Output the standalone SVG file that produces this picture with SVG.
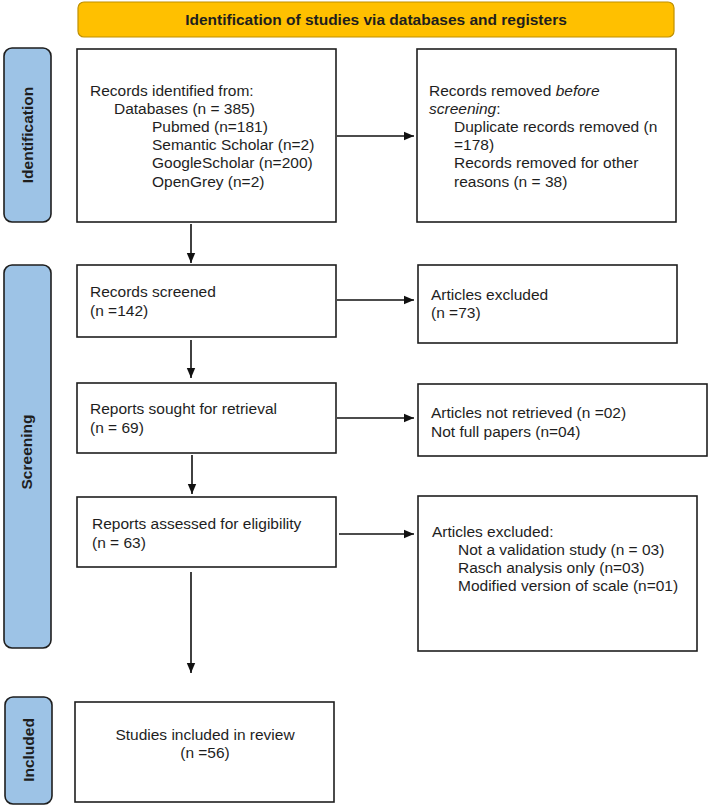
<svg xmlns="http://www.w3.org/2000/svg" width="709" height="806" viewBox="0 0 709 806">
<defs>
<style>
.box{fill:#fff;stroke:#1e1e1e;stroke-width:1.6}
.side{fill:#9dc3e6;stroke:#1e1e1e;stroke-width:1.6}
.hdr{fill:#ffc000;stroke:#c09000;stroke-width:1.2}
.t{font-family:"Liberation Sans",Arial,sans-serif;font-size:15.5px;fill:#1e1e1e}
.b{font-family:"Liberation Sans",Arial,sans-serif;font-size:15.5px;font-weight:bold;fill:#1e1e1e}
.c{stroke:#111;stroke-width:1.6;fill:none}
</style>
<marker id="ah" markerUnits="userSpaceOnUse" markerWidth="10" markerHeight="10" refX="10" refY="5" orient="auto">
<path d="M0,0.8 L10,5 L0,9.2 z" fill="#111"/>
</marker>
</defs>
<rect width="709" height="806" fill="#fff"/>
<g id="header">
<rect class="hdr" x="78" y="2" width="596" height="35" rx="6"/>
<text class="b" x="376" y="24.5" text-anchor="middle">Identification of studies via databases and registers</text>
</g>
<g id="side-identification">
<rect class="side" x="4" y="48" width="47" height="174" rx="8"/>
<text class="b" transform="translate(33,135) rotate(-90)" text-anchor="middle">Identification</text>
</g>
<g id="side-screening">
<rect class="side" x="4" y="265" width="47" height="383" rx="8"/>
<text class="b" transform="translate(32,452) rotate(-90)" text-anchor="middle">Screening</text>
</g>
<g id="side-included">
<rect class="side" x="5" y="697" width="47" height="107" rx="8"/>
<text class="b" transform="translate(34,750) rotate(-90)" text-anchor="middle">Included</text>
</g>
<g id="records-identified">
<rect class="box" x="77" y="49" width="259" height="173"/>
<text class="t" x="90" y="96">Records identified from:</text>
<text class="t" x="114" y="114">Databases (n = 385)</text>
<text class="t" x="152" y="132">Pubmed (n=181)</text>
<text class="t" x="152" y="150">Semantic Scholar (n=2)</text>
<text class="t" x="152" y="168">GoogleScholar (n=200)</text>
<text class="t" x="152" y="187">OpenGrey (n=2)</text>
</g>
<g id="records-removed">
<rect class="box" x="417" y="49" width="259" height="173"/>
<text class="t" x="429" y="96">Records removed <tspan font-style="italic">before</tspan></text>
<text class="t" x="429" y="114"><tspan font-style="italic">screening</tspan>:</text>
<text class="t" x="454" y="132">Duplicate records removed (n</text>
<text class="t" x="454" y="150">=178)</text>
<text class="t" x="454" y="168">Records removed for other</text>
<text class="t" x="454" y="187">reasons (n = 38)</text>
</g>
<g id="records-screened">
<rect class="box" x="77" y="265" width="259" height="72"/>
<text class="t" x="90" y="297">Records screened</text>
<text class="t" x="90" y="316">(n =142)</text>
</g>
<g id="articles-excluded-1">
<rect class="box" x="418" y="265" width="259" height="78"/>
<text class="t" x="431" y="300">Articles excluded</text>
<text class="t" x="431" y="318">(n =73)</text>
</g>
<g id="reports-sought">
<rect class="box" x="77" y="383" width="259" height="70"/>
<text class="t" x="90" y="414">Reports sought for retrieval</text>
<text class="t" x="90" y="433">(n = 69)</text>
</g>
<g id="articles-not-retrieved">
<rect class="box" x="418" y="384" width="289" height="72"/>
<text class="t" x="431" y="418">Articles not retrieved (n =02)</text>
<text class="t" x="431" y="437">Not full papers (n=04)</text>
</g>
<g id="reports-assessed">
<rect class="box" x="77" y="497" width="259" height="70"/>
<text class="t" x="92" y="529">Reports assessed for eligibility</text>
<text class="t" x="92" y="548">(n = 63)</text>
</g>
<g id="articles-excluded-2">
<rect class="box" x="418" y="496" width="279" height="155"/>
<text class="t" x="432" y="537">Articles excluded:</text>
<text class="t" x="458" y="555">Not a validation study (n = 03)</text>
<text class="t" x="458" y="573">Rasch analysis only (n=03)</text>
<text class="t" x="458" y="591">Modified version of scale (n=01)</text>
</g>
<g id="studies-included">
<rect class="box" x="75" y="702" width="259" height="100"/>
<text class="t" x="205" y="740" text-anchor="middle">Studies included in review</text>
<text class="t" x="205" y="758" text-anchor="middle">(n =56)</text>
</g>
<g id="connectors">
<line class="c" x1="337" y1="136" x2="414" y2="136" marker-end="url(#ah)"/>
<line class="c" x1="191" y1="224" x2="191" y2="263" marker-end="url(#ah)"/>
<line class="c" x1="337" y1="300" x2="414" y2="300" marker-end="url(#ah)"/>
<line class="c" x1="191" y1="340" x2="191" y2="378" marker-end="url(#ah)"/>
<line class="c" x1="337" y1="418" x2="414" y2="418" marker-end="url(#ah)"/>
<line class="c" x1="192" y1="455" x2="192" y2="494" marker-end="url(#ah)"/>
<line class="c" x1="339" y1="534" x2="414" y2="534" marker-end="url(#ah)"/>
<line class="c" x1="191" y1="572" x2="191" y2="673" marker-end="url(#ah)"/>
</g>
</svg>
